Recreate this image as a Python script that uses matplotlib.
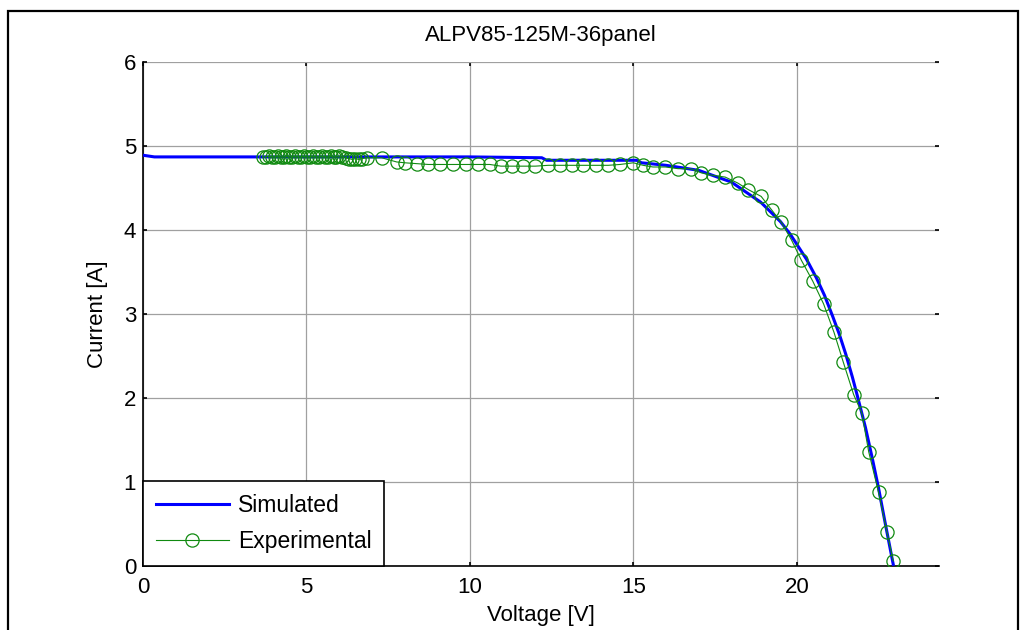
import numpy as np
import matplotlib
matplotlib.use('Agg')
import matplotlib.pyplot as plt
from matplotlib.patches import Rectangle

plt.rcParams['font.family'] = ['Liberation Sans', 'DejaVu Sans']

# Simulated I-V curve
v_sim = [0, 0.35, 5, 10, 12.2, 12.35, 15.1, 15.25, 16.0, 17.0, 18.0, 18.9,
         19.5, 19.8, 20.0, 20.3, 20.6, 20.85, 21.1, 21.3, 21.5, 21.7, 21.85,
         22.1, 22.3, 22.5, 22.7, 22.95]
i_sim = [4.89, 4.87, 4.87, 4.87, 4.86, 4.83, 4.83, 4.80, 4.77, 4.71, 4.57, 4.33,
         4.10, 3.95, 3.83, 3.65, 3.43, 3.22, 2.97, 2.76, 2.52, 2.25, 2.03,
         1.65, 1.30, 0.93, 0.52, 0.02]

# Experimental measurements
v_exp = [3.67, 3.76, 3.85, 3.94, 4.03, 4.12, 4.21, 4.30, 4.39, 4.48, 4.57, 4.66,
         4.75, 4.84, 4.93, 5.02, 5.11, 5.20, 5.29, 5.38, 5.47, 5.56, 5.65, 5.74,
         5.83, 5.92, 6.01, 6.10, 6.20, 6.30, 6.40, 6.50, 6.60, 6.70, 6.85, 7.30,
         7.76, 8.01, 8.37, 8.73, 9.10, 9.49, 9.87, 10.25, 10.61, 10.95, 11.30,
         11.63, 12.00, 12.40, 12.75, 13.11, 13.46, 13.87, 14.23, 14.59, 15.00,
         15.30, 15.60, 15.98, 16.37, 16.75, 17.08, 17.44, 17.81, 18.19, 18.52,
         18.91, 19.23, 19.53, 19.84, 20.14, 20.49, 20.82, 21.14, 21.42, 21.74,
         21.99, 22.20, 22.50, 22.76, 22.95]
i_exp = [4.87, 4.87, 4.88, 4.87, 4.87, 4.88, 4.87, 4.87, 4.88, 4.87, 4.87, 4.88,
         4.87, 4.87, 4.88, 4.87, 4.87, 4.88, 4.87, 4.87, 4.88, 4.87, 4.87, 4.88,
         4.87, 4.87, 4.88, 4.87, 4.86, 4.85, 4.84, 4.85, 4.84, 4.85, 4.86, 4.86,
         4.81, 4.80, 4.79, 4.78, 4.78, 4.78, 4.78, 4.78, 4.78, 4.76, 4.76,
         4.76, 4.76, 4.77, 4.77, 4.77, 4.77, 4.77, 4.77, 4.78, 4.80,
         4.77, 4.75, 4.75, 4.73, 4.73, 4.68, 4.65, 4.63, 4.56, 4.48,
         4.40, 4.24, 4.09, 3.88, 3.64, 3.39, 3.12, 2.78, 2.43, 2.04,
         1.82, 1.36, 0.88, 0.40, 0.06]

x_ticks = [0, 5, 10, 15, 20]
y_ticks = [0, 1, 2, 3, 4, 5, 6]

fig = plt.figure(figsize=(10.27, 6.3), dpi=100)
ax = fig.add_axes([0.1392, 0.1016, 0.7751, 0.8])

ax.plot(v_sim, i_sim, color='#0000ff', linewidth=2.2, label='Simulated', zorder=3)
ax.plot(v_exp, i_exp, color='#108a10', linewidth=0.8, marker='o', markersize=9.5,
        markerfacecolor='none', markeredgecolor='#108a10', markeredgewidth=0.9,
        label='Experimental', zorder=4)

ax.set_xlim(0, 24.35)
ax.set_ylim(0, 6)
ax.set_xticks(x_ticks)
ax.set_yticks(y_ticks)
ax.grid(True, color='#a0a0a0', linewidth=0.9, linestyle='-')
ax.set_axisbelow(True)

for side in ['top', 'right']:
    ax.spines[side].set_visible(False)
for side in ['left', 'bottom']:
    ax.spines[side].set_linewidth(1.2)

ax.tick_params(direction='in', length=3, width=1.2, top=True, right=True,
               labelsize=16)
ax.tick_params(axis='x', pad=8)
ax.tick_params(axis='y', pad=5)

ax.set_title('ALPV85-125M-36panel', fontsize=16, pad=15)
ax.set_xlabel('Voltage [V]', fontsize=16, labelpad=5)
ax.set_ylabel('Current [A]', fontsize=16, labelpad=11)

leg = ax.legend(loc='lower left', borderaxespad=0, fontsize=16.5, fancybox=False,
                edgecolor='black', framealpha=1, handlelength=3.2,
                handletextpad=0.4, labelspacing=0.6, borderpad=0.55,
                numpoints=1)
leg.get_frame().set_linewidth(1.2)

# outer figure frame
fig.patches.append(Rectangle((8 / 1027, -0.05), 1010 / 1027, 1.05 - 11 / 630,
                             transform=fig.transFigure, fill=False,
                             edgecolor='black', linewidth=1.6))

plt.savefig('out.png', dpi=100)
